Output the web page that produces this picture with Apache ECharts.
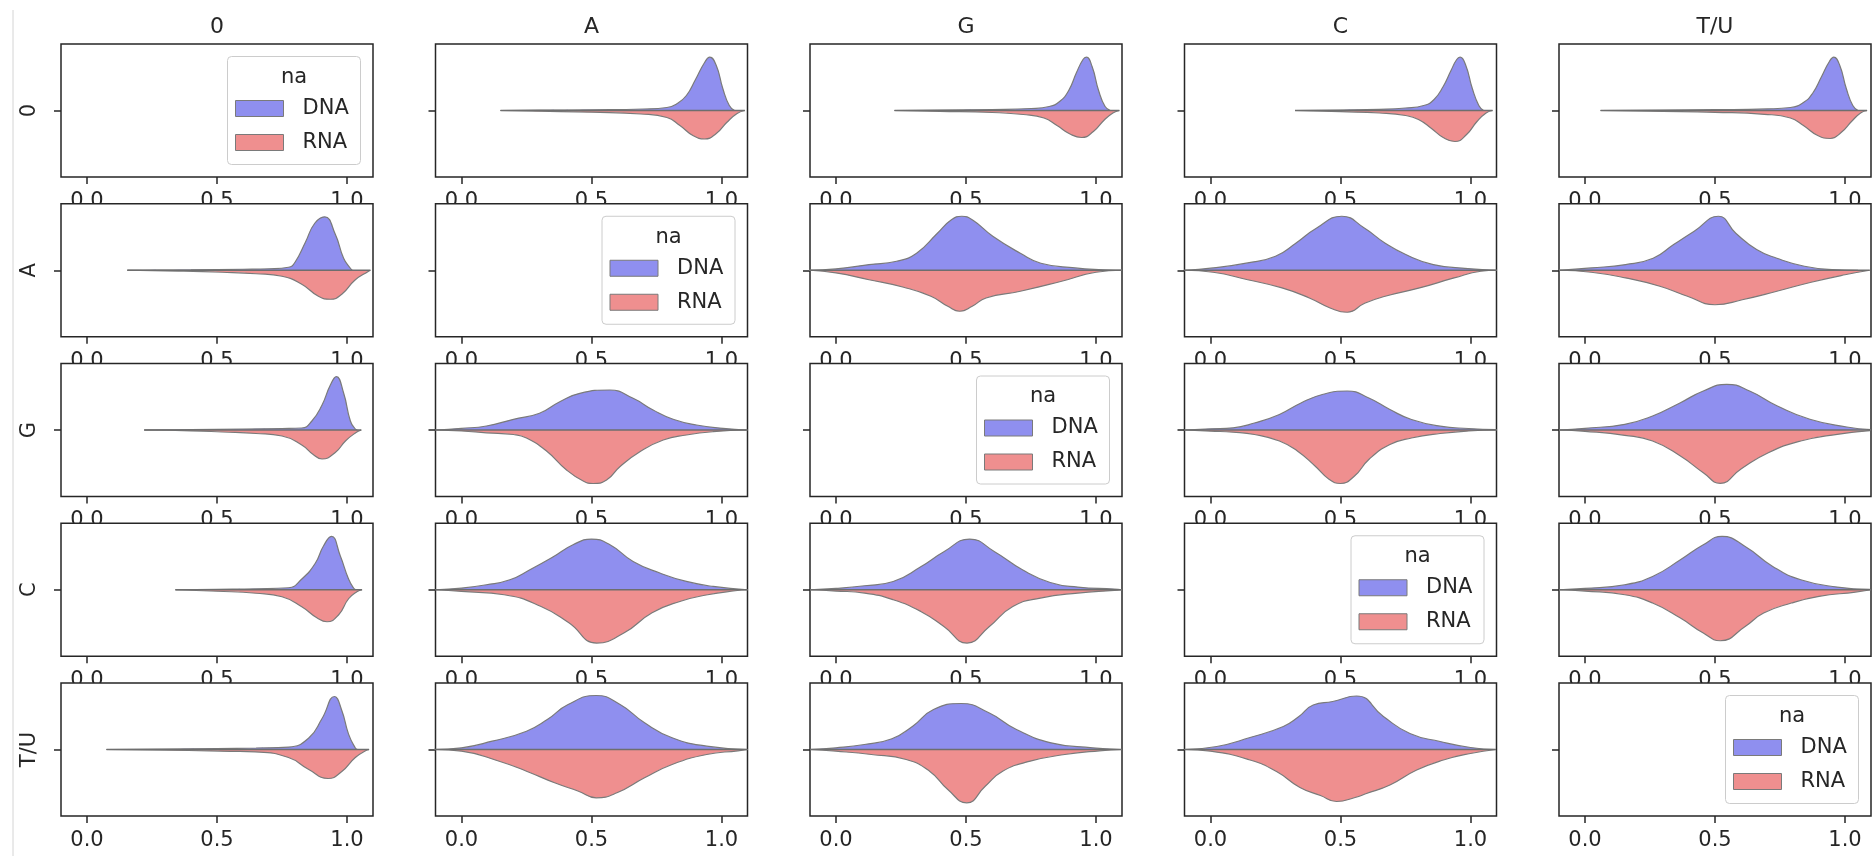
<!DOCTYPE html>
<html>
<head>
<meta charset="utf-8">
<script src="https://cdn.jsdelivr.net/npm/echarts@6/dist/echarts.min.js"></script>
<style>
  html, body { margin: 0; padding: 0; background: #fff; }
  #chart { width: 1875px; height: 856px; }
</style>
</head>
<body>
<div id="chart"></div>
<script>
// row / column labels
const names = ["0", "A", "G", "C", "T/U"];
const xTicks = [0, 0.5, 1.0];

// violin half widths, [x, width]; width unit: axis runs -66.5..66.5 (peak of each panel ~53)
// row "0"
const dna0_A = [[0.15, 0], [0.3, 0.3], [0.5, 0.7], [0.7, 1.5], [0.79, 3], [0.83, 7], [0.865, 15], [0.9, 31], [0.935, 48], [0.955, 53.3], [0.98, 45], [1.005, 22], [1.03, 5], [1.05, 0]];
const rna0_A = [[0.15, 0], [0.3, 0.7], [0.5, 1.7], [0.69, 3.5], [0.79, 7], [0.84, 15], [0.89, 25], [0.935, 28.5], [0.98, 23], [1.02, 12], [1.06, 3], [1.09, 0]];
const dna0_G = [[0.225, 0], [0.4, 0.4], [0.6, 1], [0.75, 2], [0.82, 4], [0.86, 9], [0.895, 20], [0.925, 38], [0.95, 51], [0.963, 53.3], [0.985, 44], [1.01, 20], [1.035, 4], [1.055, 0]];
const rna0_G = [[0.225, 0], [0.4, 0.8], [0.6, 2], [0.72, 4], [0.8, 7.5], [0.85, 15], [0.9, 23.5], [0.945, 27], [0.99, 21], [1.03, 10], [1.065, 2.5], [1.09, 0]];
const dna0_C = [[0.325, 0], [0.5, 0.5], [0.65, 1.2], [0.75, 2.5], [0.82, 5], [0.86, 11], [0.895, 24], [0.925, 40], [0.947, 51], [0.96, 53.3], [0.982, 45], [1.007, 22], [1.032, 5], [1.05, 0]];
const rna0_C = [[0.325, 0], [0.5, 1.2], [0.65, 2.5], [0.75, 5], [0.8, 9], [0.85, 18], [0.895, 27], [0.94, 31], [0.985, 24], [1.025, 11], [1.06, 2.5], [1.085, 0]];
const dna0_T = [[0.06, 0], [0.3, 0.4], [0.5, 0.8], [0.7, 1.6], [0.79, 3], [0.84, 8], [0.875, 17], [0.91, 34], [0.94, 49], [0.957, 53.3], [0.98, 45], [1.005, 22], [1.03, 5], [1.05, 0]];
const rna0_T = [[0.06, 0], [0.3, 0.8], [0.5, 1.8], [0.69, 3.8], [0.79, 7.5], [0.84, 15], [0.895, 25], [0.943, 28], [0.985, 22], [1.025, 11], [1.06, 2.5], [1.085, 0]];
// column "0"
const dnaA_0 = [[0.155, 0], [0.4, 0.4], [0.6, 1], [0.7, 1.5], [0.775, 3], [0.8, 8], [0.84, 28], [0.876, 47], [0.914, 53.4], [0.955, 36], [0.987, 12], [1.013, 2], [1.02, 0]];
const rnaA_0 = [[0.155, 0], [0.35, 0.8], [0.52, 2], [0.65, 3.5], [0.75, 6], [0.826, 14], [0.89, 26], [0.936, 29], [0.98, 24], [1.03, 10], [1.083, 1], [1.09, 0]];
const dnaG_0 = [[0.22, 0], [0.4, 0.4], [0.6, 1], [0.75, 1.5], [0.826, 2], [0.865, 9], [0.904, 25], [0.936, 45], [0.959, 53.4], [0.987, 37], [1.013, 9], [1.032, 1], [1.04, 0]];
const rnaG_0 = [[0.22, 0], [0.4, 0.8], [0.52, 2], [0.65, 3.5], [0.75, 6], [0.826, 15], [0.87, 24.5], [0.904, 29], [0.955, 22.5], [0.994, 11], [1.032, 3], [1.055, 0]];
const dnaC_0 = [[0.34, 0], [0.5, 0.5], [0.65, 1], [0.775, 2], [0.826, 10.7], [0.878, 26.5], [0.91, 44], [0.94, 53.4], [0.974, 34], [1.006, 10.7], [1.026, 1.5], [1.035, 0]];
const rnaC_0 = [[0.34, 0], [0.5, 1.5], [0.65, 3.5], [0.75, 7], [0.826, 17], [0.884, 28], [0.923, 32], [0.968, 25], [1.006, 9], [1.038, 2], [1.058, 0]];
const dnaT_0 = [[0.075, 0], [0.3, 0.4], [0.5, 0.9], [0.65, 1.5], [0.775, 2.4], [0.853, 11.5], [0.904, 31], [0.952, 53], [0.98, 39], [1.006, 15.4], [1.032, 1.5], [1.04, 0]];
const rnaT_0 = [[0.075, 0], [0.39, 1], [0.55, 1.8], [0.647, 2.4], [0.775, 8], [0.853, 20], [0.927, 29], [0.98, 22], [1.032, 8], [1.077, 0.5], [1.085, 0]];
// row "A"
const dnaA_G = [[-0.106, 0], [0, 1.3], [0.127, 5.7], [0.233, 9], [0.31, 17], [0.39, 37], [0.444, 50.5], [0.484, 54], [0.524, 50.5], [0.603, 34], [0.709, 17], [0.788, 7], [0.92, 2.3], [1.026, 0.5], [1.1, 0]];
const rnaA_G = [[-0.1, 0], [0, 2.7], [0.127, 9.5], [0.26, 17], [0.365, 26], [0.43, 36], [0.476, 41], [0.524, 36], [0.577, 27.7], [0.709, 21], [0.868, 11], [1.0, 2], [1.1, 0]];
const dnaA_C = [[-0.1, 0], [0.01, 2.3], [0.143, 7.3], [0.25, 14], [0.328, 27], [0.407, 42], [0.505, 54], [0.593, 42], [0.672, 27], [0.751, 15.7], [0.857, 5.7], [0.99, 1.7], [1.1, 0]];
const rnaA_C = [[-0.1, 0], [0.01, 2], [0.143, 9.5], [0.275, 17.7], [0.38, 27.7], [0.46, 37.7], [0.526, 42], [0.593, 33], [0.672, 26], [0.804, 17.7], [0.937, 7.7], [1.04, 1], [1.1, 0]];
const dnaA_T = [[-0.1, 0], [0.024, 2.3], [0.156, 5.7], [0.262, 12], [0.341, 25.7], [0.42, 39], [0.513, 54], [0.58, 37], [0.66, 20.7], [0.738, 12], [0.844, 4], [0.95, 0.7], [1.05, 0]];
const rnaA_T = [[-0.1, 0], [0.024, 2], [0.156, 7.7], [0.288, 16], [0.394, 26], [0.5, 34.5], [0.605, 29.5], [0.738, 21], [0.87, 12], [1.0, 4.5], [1.095, 0]];
// row "G"
const dnaG_A = [[-0.1, 0], [0, 1.7], [0.096, 4], [0.2, 10.7], [0.3, 16.7], [0.378, 28.3], [0.455, 36.7], [0.57, 40], [0.66, 31.7], [0.737, 20], [0.814, 10.7], [0.904, 5], [1.006, 1.7], [1.096, 0]];
const rnaG_A = [[-0.1, 0], [0, 1], [0.096, 2.8], [0.2, 4.5], [0.25, 8], [0.327, 21], [0.404, 40], [0.468, 51], [0.506, 53.5], [0.558, 50], [0.609, 36.7], [0.686, 21.7], [0.776, 10], [0.865, 5], [0.968, 1.7], [1.1, 0]];
const dnaG_C = [[-0.1, 0], [0, 1.2], [0.087, 2.2], [0.169, 7], [0.265, 15.5], [0.348, 27], [0.43, 35.5], [0.526, 39], [0.609, 32], [0.69, 20.5], [0.773, 10.5], [0.883, 3.8], [0.993, 1.5], [1.1, 0.3]];
const rnaG_C = [[-0.1, 0], [0, 1.2], [0.087, 2.2], [0.169, 4.5], [0.265, 11], [0.334, 21], [0.402, 36], [0.457, 49.5], [0.5, 53.5], [0.554, 46], [0.609, 29.5], [0.69, 14.5], [0.773, 8], [0.883, 3.5], [0.993, 1], [1.1, 0]];
const dnaG_T = [[-0.1, 0], [0, 1.7], [0.153, 5.7], [0.26, 14], [0.367, 27.3], [0.455, 39], [0.545, 45.7], [0.633, 39], [0.74, 24], [0.865, 10.7], [1.007, 3], [1.1, 0.3]];
const rnaG_T = [[-0.1, 0], [0, 1.3], [0.153, 5.3], [0.26, 11], [0.367, 26], [0.455, 42.7], [0.52, 53.3], [0.6, 39], [0.705, 22.7], [0.83, 11], [0.97, 4.3], [1.096, 0.7]];
// row "C"
const dnaC_A = [[-0.1, 0], [0, 1.7], [0.096, 5], [0.186, 10], [0.263, 20], [0.353, 33], [0.429, 45], [0.5, 50.7], [0.571, 45], [0.66, 28.3], [0.763, 16.7], [0.865, 8.3], [0.968, 3.3], [1.1, 0]];
const rnaC_A = [[-0.1, 0], [0, 1.7], [0.164, 5], [0.306, 16.7], [0.413, 33], [0.52, 53.3], [0.626, 43], [0.733, 23], [0.84, 11.7], [0.947, 5], [1.053, 1], [1.1, 0]];
const dnaC_G = [[-0.1, 0], [0, 1.3], [0.11, 4], [0.22, 8.3], [0.326, 23], [0.415, 38], [0.514, 50.7], [0.61, 38], [0.717, 20], [0.824, 7.3], [0.93, 2.7], [1.07, 0.7], [1.1, 0]];
const rnaC_G = [[-0.1, 0], [0, 1.3], [0.11, 3.3], [0.22, 10], [0.326, 21.7], [0.415, 36.7], [0.504, 53.3], [0.59, 36.7], [0.68, 16.7], [0.786, 8.3], [0.93, 3.3], [1.07, 0.7], [1.1, 0]];
const dnaC_T = [[-0.1, 0], [0, 1.3], [0.153, 5], [0.26, 13.3], [0.367, 30], [0.455, 45], [0.527, 53.3], [0.616, 43.3], [0.722, 23.3], [0.83, 10], [0.97, 2.7], [1.096, 0.3]];
const rnaC_T = [[-0.1, 0], [0, 1.3], [0.153, 5], [0.26, 13.3], [0.367, 28.3], [0.455, 43.3], [0.52, 51], [0.616, 36.7], [0.687, 23.3], [0.794, 13.3], [0.9, 6.7], [1.04, 2.3], [1.1, 0]];
// row "T/U"
const dnaT_A = [[-0.108, 0], [0, 1.7], [0.118, 8.3], [0.25, 18.3], [0.33, 30], [0.41, 45], [0.518, 54], [0.61, 45], [0.704, 26.7], [0.81, 11.7], [0.943, 3.3], [1.1, 0]];
const rnaT_A = [[-0.1, 0], [0, 1.7], [0.145, 11.7], [0.25, 21.7], [0.358, 33.3], [0.45, 41.7], [0.518, 48.3], [0.598, 43.3], [0.704, 28.3], [0.81, 15], [0.943, 5], [1.063, 1.3], [1.1, 0]];
const dnaT_G = [[-0.1, 0], [0, 1.7], [0.109, 5], [0.215, 10.7], [0.295, 23.3], [0.375, 40], [0.481, 46], [0.588, 36.7], [0.694, 20], [0.827, 6.7], [0.987, 1.7], [1.093, 0]];
const rnaT_G = [[-0.1, 0], [0, 1.7], [0.136, 5], [0.27, 10], [0.36, 21.7], [0.43, 40], [0.503, 53.3], [0.574, 36.7], [0.641, 21.7], [0.747, 11.7], [0.88, 5], [1.013, 1.3], [1.1, 0]];
const dnaT_C = [[-0.1, 0], [0.024, 3], [0.152, 12], [0.28, 23], [0.34, 33], [0.395, 44.5], [0.47, 48], [0.562, 53.5], [0.665, 33], [0.767, 16], [0.883, 8], [1.0, 2], [1.098, 0]];
const rnaT_C = [[-0.1, 0], [0, 1.7], [0.152, 10.5], [0.254, 22], [0.344, 38], [0.423, 46], [0.485, 52], [0.556, 48], [0.6, 44], [0.69, 35.5], [0.793, 20.5], [0.896, 10.5], [1.0, 4], [1.098, 0]];

// [dna, rna] per panel; null = legend panel
const panels = [
  [null, [dna0_A, rna0_A], [dna0_G, rna0_G], [dna0_C, rna0_C], [dna0_T, rna0_T]],
  [[dnaA_0, rnaA_0], null, [dnaA_G, rnaA_G], [dnaA_C, rnaA_C], [dnaA_T, rnaA_T]],
  [[dnaG_0, rnaG_0], [dnaG_A, rnaG_A], null, [dnaG_C, rnaG_C], [dnaG_T, rnaG_T]],
  [[dnaC_0, rnaC_0], [dnaC_A, rnaC_A], [dnaC_G, rnaC_G], null, [dnaC_T, rnaC_T]],
  [[dnaT_0, rnaT_0], [dnaT_A, rnaT_A], [dnaT_G, rnaT_G], [dnaT_C, rnaT_C], null]
];

const FONT = "DejaVu Sans";
const INK = "#262626";
const EDGE = "#7a7a7a";
const DNA_COLOR = "#8f8fef";
const RNA_COLOR = "#ef8f8f";

const LEFT0 = 61, COL_STEP = 374.5, W = 312;
const TOP0 = 44, ROW_STEP = 159.75, H = 133;

const grids = [], xAxes = [], yAxes = [], series = [], graphics = [];

graphics.push({
  type: "line", z: 100, silent: true,
  shape: { x1: 13, y1: 10, x2: 13, y2: 856 },
  style: { stroke: "#d4d4d4", lineWidth: 1 }
});

for (let r = 0; r < 5; r++) {
  for (let c = 0; c < 5; c++) {
    const i = r * 5 + c;
    const left = LEFT0 + c * COL_STEP;
    const top = TOP0 + r * ROW_STEP;
    // white panel background sits above the axis labels of the row above (like matplotlib)
    grids.push({
      left: left, top: top, width: W, height: H,
      show: true, backgroundColor: "#fff",
      borderColor: INK, borderWidth: 1.5, z: 1
    });
    xAxes.push({
      gridIndex: i, type: "value", min: -0.1, max: 1.1, z: 0, position: "bottom",
      axisLine: { show: false, onZero: false },
      splitLine: { show: false },
      axisTick: { show: true, customValues: xTicks, length: 7, lineStyle: { color: INK, width: 1.5 } },
      axisLabel: {
        customValues: xTicks, formatter: v => v.toFixed(1),
        fontFamily: FONT, fontSize: 21, color: INK, margin: 14
      }
    });
    yAxes.push({
      gridIndex: i, type: "value", min: -66.5, max: 66.5, z: 0, position: "left",
      axisLine: { show: false, onZero: false },
      splitLine: { show: false },
      axisTick: { show: true, customValues: [0], length: 7, lineStyle: { color: INK, width: 1.5 } },
      axisLabel: {
        show: c === 0, customValues: [0], formatter: () => names[r], rotate: 90,
        fontFamily: FONT, fontSize: 21, color: INK, margin: 21
      }
    });

    const p = panels[r][c];
    if (p) {
      const dna = p[0], rna = p[1];
      const base = { type: "line", xAxisIndex: i, yAxisIndex: i, smooth: 0.5,
        symbol: "none", silent: true, z: 3, lineStyle: { color: EDGE, width: 1.2 } };
      series.push(Object.assign({}, base, { name: "DNA", data: dna, areaStyle: { color: DNA_COLOR, opacity: 1 } }));
      series.push(Object.assign({}, base, { name: "RNA", data: rna.map(d => [d[0], -d[1]]), areaStyle: { color: RNA_COLOR, opacity: 1 } }));
      const xmin = Math.min(dna[0][0], rna[0][0]);
      const xmax = Math.max(dna[dna.length - 1][0], rna[rna.length - 1][0]);
      series.push({ type: "line", xAxisIndex: i, yAxisIndex: i, symbol: "none", silent: true, z: 4,
        data: [[xmin, 0], [xmax, 0]], lineStyle: { color: "#6e6e6e", width: 1.6 } });
    } else {
      // legend box, upper right of the diagonal panel
      const bw = 133, bh = 108;
      const bx = left + W - 12.5 - bw, by = top + 12.5;
      graphics.push({ type: "rect", z: 100, silent: true,
        shape: { x: bx, y: by, width: bw, height: bh, r: 4 },
        style: { fill: "rgba(255,255,255,0.8)", stroke: "#cccccc", lineWidth: 1 } });
      graphics.push({ type: "text", z: 101, silent: true, x: bx + bw / 2, y: by + 21,
        style: { text: "na", font: "21px " + FONT, fill: INK, align: "center", verticalAlign: "middle" } });
      [["DNA", DNA_COLOR, 44], ["RNA", RNA_COLOR, 78]].forEach(([label, col, dy]) => {
        graphics.push({ type: "rect", z: 101, silent: true,
          shape: { x: bx + 8, y: by + dy, width: 48, height: 16 },
          style: { fill: col, stroke: EDGE, lineWidth: 1 } });
        graphics.push({ type: "text", z: 101, silent: true, x: bx + 75, y: by + dy + 8,
          style: { text: label, font: "21px " + FONT, fill: INK, align: "left", verticalAlign: "middle" } });
      });
    }
  }
}

names.forEach((n, c) => {
  graphics.push({ type: "text", z: 100, silent: true, x: LEFT0 + c * COL_STEP + W / 2, y: 27,
    style: { text: n, font: "22px " + FONT, fill: INK, align: "center", verticalAlign: "middle" } });
});

const chart = echarts.init(document.getElementById("chart"));
chart.setOption({
  animation: false,
  backgroundColor: "#fff",
  grid: grids,
  xAxis: xAxes,
  yAxis: yAxes,
  series: series,
  graphic: { elements: graphics }
});
</script>
</body>
</html>
